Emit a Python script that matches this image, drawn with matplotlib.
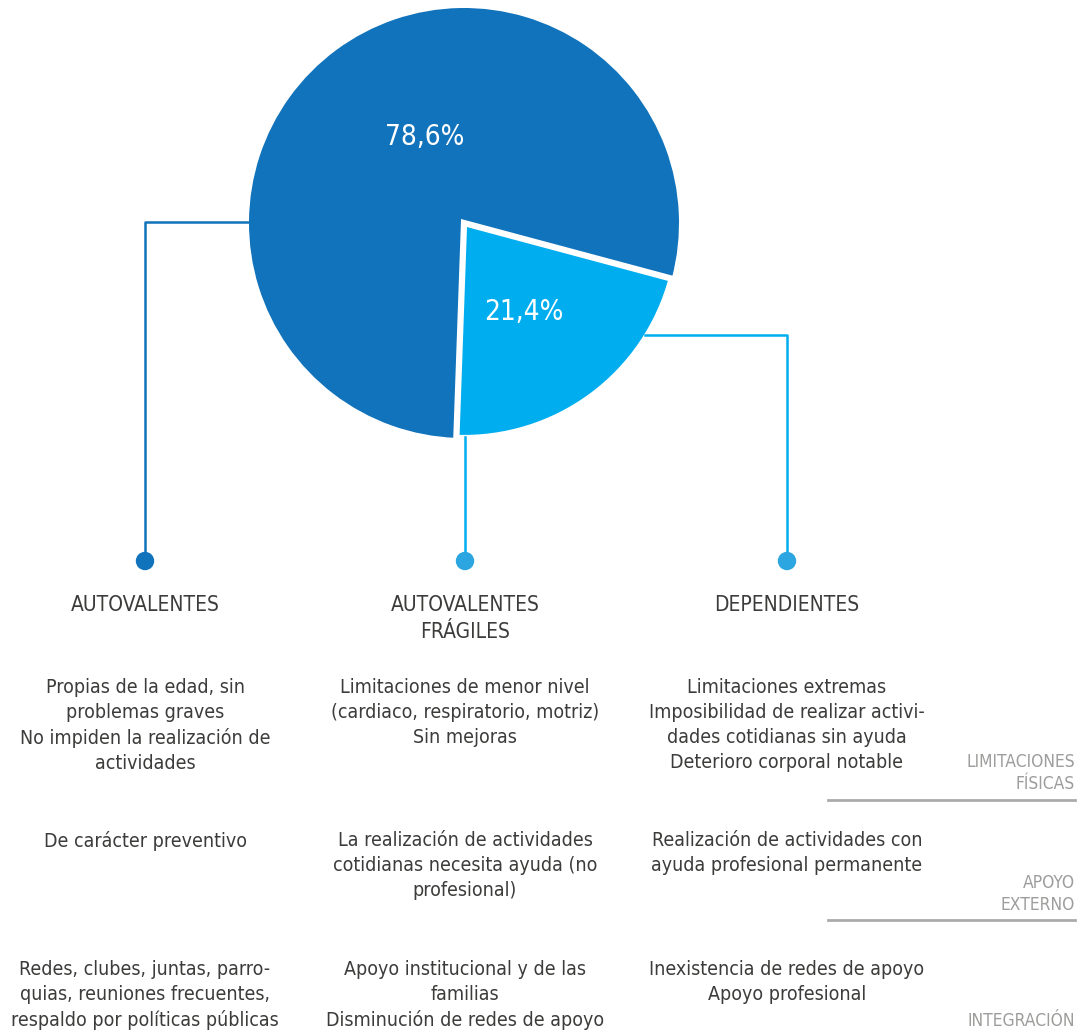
"""Pie of autonomy groups with three described columns underneath."""

import matplotlib

matplotlib.use("Agg")
import matplotlib.pyplot as plt  # noqa: E402
from matplotlib.patches import Circle  # noqa: E402

DARK, LIGHT, DOT, INK, GREY = "#1173BB", "#00AEEF", "#2BA6E1", "#3C3C3B", "#9D9D9C"
FONT = {"family": "DejaVu Sans", "stretch": "condensed"}

shares = [78.6, 21.4]
share_labels = ["78,6%", "21,4%"]
groups = ["AUTOVALENTES", "AUTOVALENTES\nFRÁGILES", "DEPENDIENTES"]
row_names = ["LIMITACIONES\nFÍSICAS", "APOYO\nEXTERNO", "INTEGRACIÓN"]
row_limitaciones = [
    "Propias de la edad, sin\nproblemas graves\nNo impiden la realización de\nactividades",
    "Limitaciones de menor nivel\n(cardiaco, respiratorio, motriz)\nSin mejoras",
    "Limitaciones extremas\nImposibilidad de realizar activi-\ndades cotidianas sin ayuda\nDeterioro corporal notable",
]
row_apoyo = [
    "De carácter preventivo",
    "La realización de actividades\ncotidianas necesita ayuda (no\nprofesional)",
    "Realización de actividades con\nayuda profesional permanente",
]
row_integracion = [
    "Redes, clubes, juntas, parro-\nquias, reuniones frecuentes,\nrespaldo por políticas públicas",
    "Apoyo institucional y de las\nfamilias\nDisminución de redes de apoyo",
    "Inexistencia de redes de apoyo\nApoyo profesional",
]

fig = plt.figure(figsize=(10.84, 10.35), dpi=100)
ax = fig.add_axes([0, 0, 1, 1])

# pie in pixel units (y axis is inverted, so angles run clockwise on screen)
wedges, _ = ax.pie(
    shares,
    center=(464, 223),
    radius=215,
    startangle=15,
    counterclock=False,
    colors=[DARK, LIGHT],
    explode=[0, 0.03],
    wedgeprops={"linewidth": 0},
    frame=True,
)
wedges[1].set_edgecolor("white")
wedges[1].set_linewidth(4.5)
ax.set_xlim(0, 1084)
ax.set_ylim(1035, 0)
ax.axis("off")
ax.set_aspect("auto")

ax.text(425, 137, share_labels[0], ha="center", va="center", color="white",
        fontsize=20, **FONT)
ax.text(524, 312, share_labels[1], ha="center", va="center", color="white",
        fontsize=20, **FONT)

# leader lines to the three columns
cols = [145, 465, 787]
ax.plot([250, 145, 145], [222, 222, 558], color=DARK, lw=1.8, zorder=1)
ax.plot([465, 465], [437, 560], color=LIGHT, lw=1.8, zorder=1)
ax.plot([645, 787, 787], [335, 335, 560], color=LIGHT, lw=1.8, zorder=1)
for x, c in zip(cols, [DARK, DOT, DOT]):
    ax.add_patch(Circle((x, 561), 8.5, color=c, zorder=3))

for x, g in zip(cols, groups):
    ax.text(x, 595, g, ha="center", va="top", fontsize=15, color=INK,
            linespacing=1.45, **FONT)

for ytop, row in zip([678, 831, 960], [row_limitaciones, row_apoyo, row_integracion]):
    for x, t in zip(cols, row):
        ax.text(x, ytop, t, ha="center", va="top", fontsize=14, color=INK,
                linespacing=1.4, **FONT)

# row names on the right with rules
for ybot, name in zip([793, 914, 1030], row_names):
    ax.text(1075, ybot, name, ha="right", va="bottom", fontsize=12.5, color=GREY,
            linespacing=1.3, **FONT)
for y in [800, 920]:
    ax.plot([828, 1075], [y, y], color="#ABABAB", lw=2)

fig.savefig("out.png", dpi=100)
